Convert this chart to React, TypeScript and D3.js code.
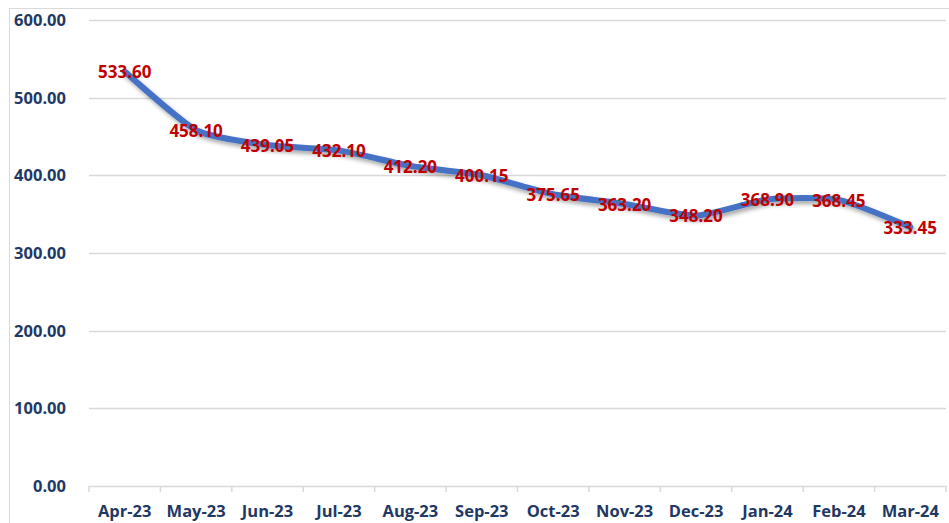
import { useEffect, useRef } from 'react';
import * as d3 from 'd3';

const months = ['Apr-23', 'May-23', 'Jun-23', 'Jul-23', 'Aug-23', 'Sep-23', 'Oct-23', 'Nov-23', 'Dec-23', 'Jan-24', 'Feb-24', 'Mar-24'];
const prices = [533.6, 458.1, 439.05, 432.1, 412.2, 400.15, 375.65, 363.2, 348.2, 368.9, 368.45, 333.45];
const yTicks = [0, 100, 200, 300, 400, 500, 600];

export default function App() {
  const svgRef = useRef<SVGSVGElement>(null);

  useEffect(() => {
    const svg = d3.select(svgRef.current);
    svg.selectAll('*').remove();

    const W = 949, H = 523;
    const left = 89, right = 946, top = 20, bottom = 486;
    const font = "'Open Sans', 'Noto Sans', sans-serif";

    svg.attr('width', W).attr('height', H);

    const defs = svg.append('defs');
    const f = defs.append('filter').attr('id', 'shadow').attr('x', '-10%').attr('y', '-20%')
      .attr('width', '120%').attr('height', '150%');
    f.append('feDropShadow').attr('dx', 2).attr('dy', 3).attr('stdDeviation', 2)
      .attr('flood-color', '#000').attr('flood-opacity', 0.35);

    // chart frame
    svg.append('rect').attr('x', 9.5).attr('y', 8.5).attr('width', W + 10).attr('height', H + 10)
      .attr('fill', '#fff').attr('stroke', '#d9d9d9').attr('stroke-width', 1);

    const x = d3.scaleBand<string>().domain(months).range([left, right]);
    const y = d3.scaleLinear().domain([0, 600]).range([bottom, top]);

    // gridlines
    svg.append('g').selectAll('line').data(yTicks.filter(t => t > 0)).join('line')
      .attr('x1', left).attr('x2', right)
      .attr('y1', d => Math.round(y(d)) + 0.5).attr('y2', d => Math.round(y(d)) + 0.5)
      .attr('stroke', '#d9d9d9').attr('stroke-width', 1.3);

    // y labels
    svg.append('g').selectAll('text').data(yTicks).join('text')
      .attr('x', 66).attr('y', d => y(d)).attr('dy', '0.36em')
      .attr('text-anchor', 'end').attr('font-family', font).attr('font-size', 16.5)
      .attr('font-weight', 700).attr('fill', '#1f3864')
      .text(d => d.toFixed(2));

    // x axis
    svg.append('line').attr('x1', left).attr('x2', right).attr('y1', bottom + 0.5).attr('y2', bottom + 0.5)
      .attr('stroke', '#d9d9d9').attr('stroke-width', 1.5);
    const tickXs = months.map(m => x(m)!).concat([right]);
    svg.append('g').selectAll('line').data(tickXs).join('line')
      .attr('x1', d => d).attr('x2', d => d).attr('y1', bottom).attr('y2', bottom + 6)
      .attr('stroke', '#d9d9d9').attr('stroke-width', 1.5);
    svg.append('g').selectAll('text').data(months).join('text')
      .attr('x', d => x(d)! + x.bandwidth() / 2).attr('y', 511).attr('dy', '0.36em')
      .attr('text-anchor', 'middle').attr('font-family', font).attr('font-size', 16.5)
      .attr('font-weight', 700).attr('fill', '#1f3864')
      .text(d => d);

    // line
    const pts: [number, number][] = prices.map((v, i) => [x(months[i])! + x.bandwidth() / 2, y(v)]);
    const line = d3.line<[number, number]>().x(d => d[0]).y(d => d[1]).curve(d3.curveCardinal.tension(0.4));
    svg.append('path').datum(pts).attr('d', line)
      .attr('fill', 'none').attr('stroke', '#4472c4').attr('stroke-width', 6)
      .attr('stroke-linejoin', 'round').attr('stroke-linecap', 'round')
      .attr('filter', 'url(#shadow)');

    // data labels
    svg.append('g').selectAll('text').data(prices).join('text')
      .attr('x', (d, i) => pts[i][0]).attr('y', (d, i) => pts[i][1]).attr('dy', '0.4em')
      .attr('text-anchor', 'middle').attr('font-family', font).attr('font-size', 17)
      .attr('font-weight', 700).attr('fill', '#c00000')
      .text(d => d.toFixed(2));
  }, []);

  return <svg ref={svgRef} style={{ position: 'absolute', left: 0, top: 0, display: 'block' }} />;
}
